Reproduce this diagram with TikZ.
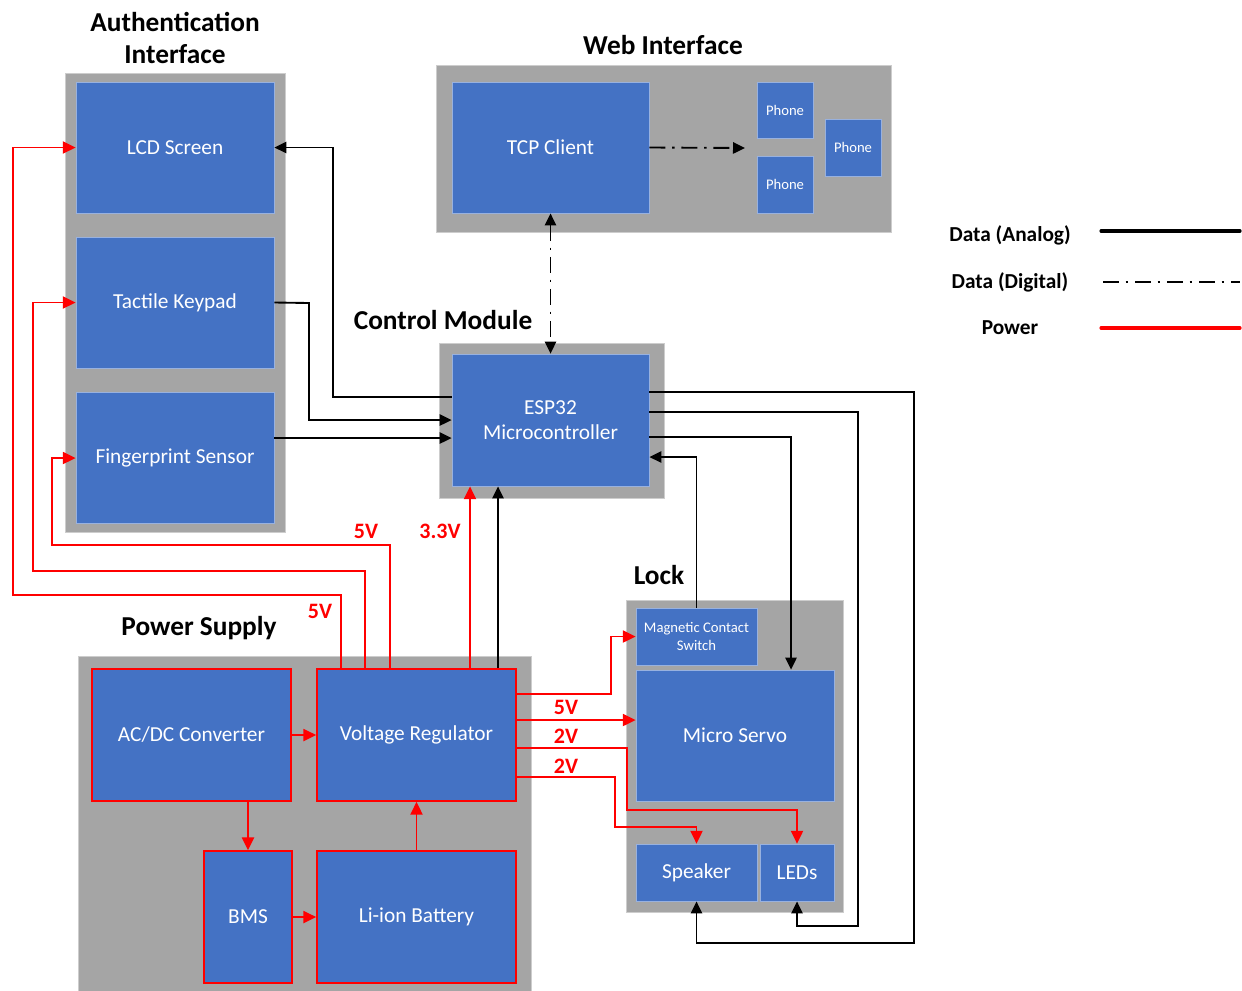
\documentclass[tikz,border=0pt]{standalone}
\usepackage{fontspec}
\setmainfont{Carlito}
\usetikzlibrary{arrows.meta}
\definecolor{boxblue}{HTML}{4472C4}
\definecolor{grp}{HTML}{A5A5A5}
\definecolor{pred}{HTML}{FF0000}
% \bx{name}{style}{x1}{y1}{x2}{y2}{text}
\newcommand\bx[7]{\node[#2, minimum width={(#5-#3)*0.75pt}, minimum height={(#6-#4)*0.75pt}] (#1) at ({(#3+#5)/2},{(#4+#6)/2}) {#7};}
\begin{document}
\begin{tikzpicture}[x=0.75pt,y=-0.75pt,
  grpbox/.style={fill=grp, draw=grp!55!white, line width=0.6pt, inner sep=0pt},
  bbox/.style={fill=boxblue, draw=boxblue!55!white, line width=0.6pt, inner sep=0pt, text=white, font=\fontsize{16}{19}\selectfont, align=center},
  sbox/.style={bbox, font=\fontsize{11}{13.5}\selectfont},
  pbox/.style={bbox, draw=pred, line width=1.3pt},
  title/.style={font=\bfseries\fontsize{20.5}{24}\selectfont, align=center, inner sep=0pt},
  vlab/.style={font=\bfseries\fontsize{16.5}{19}\selectfont, text=pred, inner sep=0pt},
  leg/.style={font=\bfseries\fontsize{16}{19}\selectfont, inner sep=0pt},
  tip/.style={-{Triangle[length=9pt,width=8.5pt]}},
  data/.style={line width=1.4pt, draw=black, tip},
  digital/.style={line width=1.4pt, draw=black, dash pattern=on 12pt off 5pt on 2pt off 5pt},
  power/.style={line width=1.4pt, draw=pred, -{Triangle[length=9.5pt,width=9pt,fill=pred]}}
]
\useasboundingbox (0,0) rectangle (1242,990);

% groups
\bx{gauth}{grpbox}{65}{73}{285}{532}{}
\bx{gweb}{grpbox}{436}{65}{891}{232}{}
\bx{gctrl}{grpbox}{439}{343}{664}{498}{}
\bx{gpow}{grpbox}{78}{656}{531}{995}{}
\bx{glock}{grpbox}{626}{600}{843}{912}{}

% titles
\node[title] (tauth) at (175,38) {Authentication\\Interface};
\node[title] (tweb) at (663,45) {Web Interface};
\node[title] (tctrl) at (443,320) {Control Module};
\node[title] (tpow) at (199,628) {Power Supply};
\node[title] (tlock) at (659,575) {Lock};

% auth
\bx{lcd}{bbox}{76}{82}{274}{213}{LCD Screen}
\bx{kp}{bbox}{76}{237}{274}{368}{Tactile Keypad}
\bx{fp}{bbox}{76}{392}{274}{523}{Fingerprint Sensor}

% web
\bx{tcp}{bbox}{452}{82}{649}{213}{TCP Client}
\bx{ph1}{sbox}{757}{82}{813}{138}{Phone}
\bx{ph2}{sbox}{757}{156}{813}{213}{Phone}
\bx{ph3}{sbox}{825}{119}{881}{176}{Phone}

% control
\bx{esp}{bbox}{452}{354}{649}{486}{ESP32\\Microcontroller}

% power
\bx{acdc}{pbox}{92}{669}{291}{801}{AC/DC Converter}
\bx{vr}{pbox}{317}{669}{516}{801}{Voltage Regulator}
\bx{bms}{pbox}{204}{851}{292}{983}{BMS}
\bx{li}{pbox}{317}{851}{516}{983}{Li-ion Battery}

% lock
\bx{mag}{sbox}{636}{608}{757}{665}{Magnetic Contact\\Switch}
\bx{srv}{bbox}{636}{670}{834}{801}{Micro Servo}
\bx{spk}{bbox}{636}{844}{757}{901}{Speaker}
\bx{led}{bbox}{760}{844}{834}{901}{LEDs}

% data connectors
\draw[data] (esp.west |- 0,397) -- (333,397) |- (lcd.east);
\draw[data] (kp.east) -- (309,303) |- (esp.west);
\draw[data] (fp.east |- 0,438) -- (esp.west |- 0,438);
\draw[digital, {Triangle[length=9pt,width=8.5pt]}-{Triangle[length=9pt,width=8.5pt]}] (tcp.south) -- (esp.north);
\coordinate (phin) at (745,148);
\draw[digital, tip] (tcp.east) -- (phin);
\draw[data] (esp.east |- 0,392) -- (914,392) -- (914,943) -| (spk.south);
\draw[data] (esp.east |- 0,412) -- (858,412) -- (858,926) -| (led.south);
\draw[data] (esp.east |- 0,437) -| (srv.north -| 791,0);
\draw[data] (mag.north) |- (esp.east |- 0,457);
\draw[data] (vr.north -| 498,0) -- (esp.south -| 498,0);

% power connectors
\draw[power] (vr.north -| 470,0) -- (esp.south -| 470,0);
\draw[power] (vr.north -| 390,0) |- (52,545) |- (fp.west |- 0,458);
\draw[power] (vr.north -| 365,0) |- (33,571) |- (kp.west);
\draw[power] (vr.north -| 341,0) |- (13,595) |- (lcd.west);
\draw[power] (vr.east |- 0,694) -- (611,694) |- (mag.west);
\draw[power] (vr.east |- 0,720) -- (srv.west |- 0,720);
\draw[power] (vr.east |- 0,748) -- (627,748) -- (627,810) -| (led.north);
\draw[power] (vr.east |- 0,777) -- (615,777) -- (615,827) -| (spk.north);
\draw[power] (acdc.east) -- (vr.west);
\draw[power] (bms.north |- acdc.south) -- (bms.north);
\draw[power] (bms.east) -- (li.west);
\draw[power] (li.north) -- (vr.south);

% voltage labels
\node[vlab] (v1) at (366,531) {5V};
\node[vlab] (v2) at (440,531) {3.3V};
\node[vlab] (v3) at (320,611) {5V};
\node[vlab] (v4) at (566,707) {5V};
\node[vlab] (v5) at (566,736) {2V};
\node[vlab] (v6) at (566,766) {2V};

% legend
\node[leg] (la) at (1010,235) {Data (Analog)};
\node[leg] (ld) at (1010,282) {Data (Digital)};
\node[leg] (lp) at (1010,328) {Power};
\coordinate (la1) at (1101,231); \coordinate (la2) at (1240,231);
\coordinate (ld1) at (1103,282); \coordinate (ld2) at (1240,282);
\coordinate (lp1) at (1101,328); \coordinate (lp2) at (1240,328);
\draw[line width=2.4pt, line cap=round] (la1) -- (la2);
\draw[line width=1.2pt, dash pattern=on 12pt off 5pt on 2pt off 5pt] (ld1) -- (ld2);
\draw[line width=2.4pt, draw=pred, line cap=round] (lp1) -- (lp2);
\end{tikzpicture}
\end{document}
